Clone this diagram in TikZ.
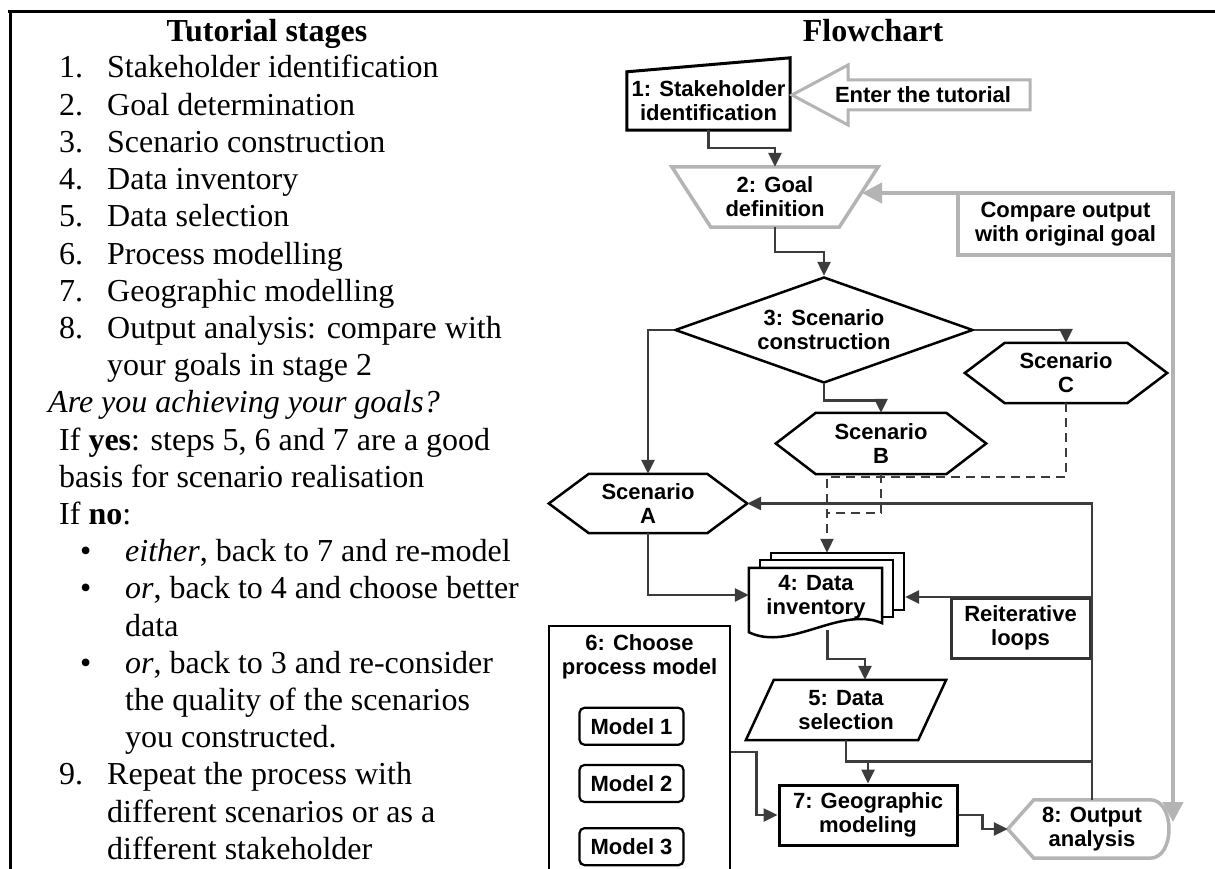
\documentclass[tikz,border=0pt]{standalone}
\usepackage{fontspec}
\setmainfont{Liberation Serif}
\newfontfamily\arialfont{Liberation Sans}
\usetikzlibrary{arrows.meta,positioning,shapes.geometric}

\definecolor{lightline}{HTML}{B4B4B4}
\definecolor{darkline}{HTML}{3C3C3C}

\tikzset{
  fctext/.style={font=\arialfont\bfseries\fontsize{22}{24}\selectfont, align=center, inner sep=0pt},
  outl/.style={draw=black, line width=2.5pt},
  conn/.style={draw=darkline, line width=2.5pt, -{Triangle[length=14pt,width=13pt]}},
  dashconn/.style={conn, dash pattern=on 9pt off 6pt, line width=2pt},
  grayline/.style={draw=lightline, line width=3.5pt},
  stage/.style={font=\fontsize{32}{37.2}\selectfont, anchor=base west, inner sep=0pt},
  modelbox/.style={fctext, draw, line width=2.2pt, rounded corners=5pt, minimum width=104pt, minimum height=37pt}
}

\begin{document}
\begin{tikzpicture}[x=1pt,y=-1pt]
  \path[use as bounding box, fill=white] (0,0) rectangle (1215,869);
  % table frame
  \draw[line width=3pt] (8,12) -- (1215,12);
  \draw[line width=3pt] (10,12) -- (10,869);

  % left column
  \node[stage, anchor=base, font=\bfseries\fontsize{32}{37}\selectfont] (ltitle) at (267,42) {Tutorial stages};
  \foreach \i/\t [count=\k from 0] in {1/Stakeholder identification,2/Goal determination,
      3/Scenario construction,4/Data inventory,5/Data selection,6/Process modelling,
      7/Geographic modelling,8/Output analysis: compare with}
  {
    \node[stage] (num\i) at (59,{78+37.2*\k}) {\i.};
    \node[stage] (item\i) at (107,{78+37.2*\k}) {\t};
  }
  \node[stage] (item8b) at (107,375.6) {your goals in stage 2};
  \node[stage] (achq) at (48,412.8) {\textit{Are you achieving your goals?}};
  \node[stage] (yes1) at (59,450) {If \textbf{yes}: steps 5, 6 and 7 are a good};
  \node[stage] (yes2) at (59,487.2) {basis for scenario realisation};
  \node[stage] (no) at (59,524.4) {If \textbf{no}:};
  \node[stage] (b1) at (80,561.6) {\textbullet};
  \node[stage] (opt1) at (125,561.6) {\textit{either}, back to 7 and re-model};
  \node[stage] (b2) at (80,598.8) {\textbullet};
  \node[stage] (opt2) at (125,598.8) {\textit{or}, back to 4 and choose better};
  \node[stage] (opt2b) at (125,636) {data};
  \node[stage] (b3) at (80,673.2) {\textbullet};
  \node[stage] (opt3) at (125,673.2) {\textit{or}, back to 3 and re-consider};
  \node[stage] (opt3b) at (125,710.4) {the quality of the scenarios};
  \node[stage] (opt3c) at (125,747.6) {you constructed.};
  \node[stage] (num9) at (59,784.8) {9.};
  \node[stage] (item9) at (107,784.8) {Repeat the process with};
  \node[stage] (item9b) at (107,822) {different scenarios or as a};
  \node[stage] (item9c) at (107,859.2) {different stakeholder};

  % flowchart
  \node[stage, anchor=base, font=\bfseries\fontsize{32}{37}\selectfont] (rtitle) at (873,42) {Flowchart};

  \node[fctext, minimum width=163pt, minimum height=58pt] (n1) at (708.5,101) {1: Stakeholder\\identification};
  \draw[outl, line width=3pt] (n1.south west) -- (n1.north west) -- ([shift={(0,-14)}]n1.north east) -- (n1.south east) -- cycle;

  \draw[grayline, line width=3pt] (792,95) -- (848,65) -- (848,80) -- (1030,80) -- (1030,110) -- (848,110) -- (848,125) -- cycle;
  \node[fctext] (enter) at (923,95) {Enter the tutorial};

  \node[fctext, minimum width=206pt, minimum height=60pt] (n2) at (775,197) {2: Goal\\definition};
  \draw[grayline] (n2.north west) -- (n2.north east) -- ([shift={(-39,0)}]n2.south east) -- ([shift={(39,0)}]n2.south west) -- cycle;

  \node[fctext, draw=lightline, line width=3.5pt, minimum width=215pt, minimum height=62pt] (cmp) at (1065.5,224) {Compare output\\with original goal};

  \node[fctext, diamond, aspect=2.81, outl, minimum width=298pt, minimum height=106pt] (n3) at (824,330) {3: Scenario\\construction};

  \node[fctext, minimum width=198pt, minimum height=59pt] (scA) at (648,503.5) {Scenario\\A};
  \node[fctext, minimum width=210pt, minimum height=61pt] (scB) at (881,443.5) {Scenario\\B};
  \node[fctext, minimum width=202pt, minimum height=60pt] (scC) at (1066,373) {Scenario\\C};
  \foreach \s in {scA,scB,scC}
    \draw[outl] (\s.west) -- ([shift={(40,0)}]\s.north west) -- ([shift={(-40,0)}]\s.north east) -- (\s.east)
      -- ([shift={(-40,0)}]\s.south east) -- ([shift={(40,0)}]\s.south west) -- cycle;

  % data inventory (stacked documents)
  \node[minimum width=133pt, minimum height=54pt, inner sep=0pt] (inv) at (815.5,595) {};
  \draw[outl, fill=white] ([shift={(22,-15)}]inv.north west) rectangle ([shift={(22,-12)}]inv.south east);
  \draw[outl, fill=white] ([shift={(11,-8)}]inv.north west) rectangle ([shift={(11,-5)}]inv.south east);
  \draw[outl, fill=white] (inv.north west) -- (inv.north east) -- ([shift={(0,1)}]inv.south east)
    .. controls +(-42,-18) and +(41,20) .. ([shift={(0,10)}]inv.south west) -- cycle;
  \node[fctext] (invlab) at (816,597) {4: Data\\inventory};
  \coordinate (invtop) at ([shift={(11.5,-15)}]inv.north);
  \coordinate (invback) at ([shift={(23,2)}]inv.east);

  \node[fctext, draw=black!80, line width=3pt, minimum width=139pt, minimum height=60pt] (reit) at (1020.5,628) {Reiterative\\loops};

  \node[fctext, minimum width=200pt, minimum height=60pt] (n5) at (846,710) {5: Data\\selection};
  \draw[outl] ([shift={(28,0)}]n5.north west) -- (n5.north east) -- ([shift={(-28,0)}]n5.south east) -- (n5.south west) -- cycle;

  \node[outl, minimum width=181pt, minimum height=252pt] (n6) at (639.5,752) {};
  \node[fctext, below=10pt of n6.north] (n6lab) {6: Choose\\process model};
  \node[modelbox, below=27pt of n6lab, xshift=-8pt] (mod1) {Model 1};
  \node[modelbox, below=18pt of mod1] (mod2) {Model 2};
  \node[modelbox, below=24pt of mod2] (mod3) {Model 3};

  \node[fctext, outl, line width=3pt, minimum width=178pt, minimum height=60pt] (n7) at (868,815) {7: Geographic\\modeling};

  \node[fctext, minimum width=168pt, minimum height=58pt] (n8) at (1092,829) {8: Output\\analysis};
  \draw[grayline] (n8.west) -- ([shift={(26,0)}]n8.north west) -- ([shift={(-26,0)}]n8.north east)
    to[out=0,in=0,looseness=1.1] ([shift={(-26,0)}]n8.south east) -- ([shift={(26,0)}]n8.south west) -- cycle;

  % connectors
  \draw[conn] (n1.south) -- ++(0,18) -| (n2.north);
  \draw[conn] (n2.south) -- ++(0,25) -| (n3.north);
  \draw[conn] (n3.west) -| (scA.north);
  \draw[conn] (n3.east) -| (scC.north);
  \draw[conn] (n3.south) -- ++(0,16) -| (scB.north);
  \draw[conn] (scA.south) |- (inv.west);
  \draw[dashconn] (scC.south) |- ([shift={(0,-76)}]invtop) -- (invtop);
  \draw[dashconn,-] (scB.south) |- ([shift={(0,-40)}]invtop);
  \draw[conn] ([shift={(12,8)}]inv.south) -- ++(0,29) -| ([shift={(19,0)}]n5.north);
  \coordinate (j7) at ([shift={(0,-22)}]n7.north);
  \draw[conn] (n5.south) |- (j7) -- (n7.north);
  \draw[conn] (n6.east) -- ++(25,0) |- (n7.west);
  \draw[conn] (n7.east) -- ++(24,0) |- (n8.west);
  % reiterative loops
  \draw[conn] (n8.north) |- (scA.east);
  \draw[conn] (n8.north |- invback) -- (invback);
  \draw[conn,-] (n8.north |- j7) -- (j7);
  % feedback to goal
  \coordinate (goalin) at (862,193);
  \coordinate (fbout) at (1173,822);
  \draw[grayline, line width=4pt, {Triangle[length=20pt,width=20pt]}-{Triangle[length=20pt,width=20pt]}] (goalin) -| (fbout);
\end{tikzpicture}
\end{document}
